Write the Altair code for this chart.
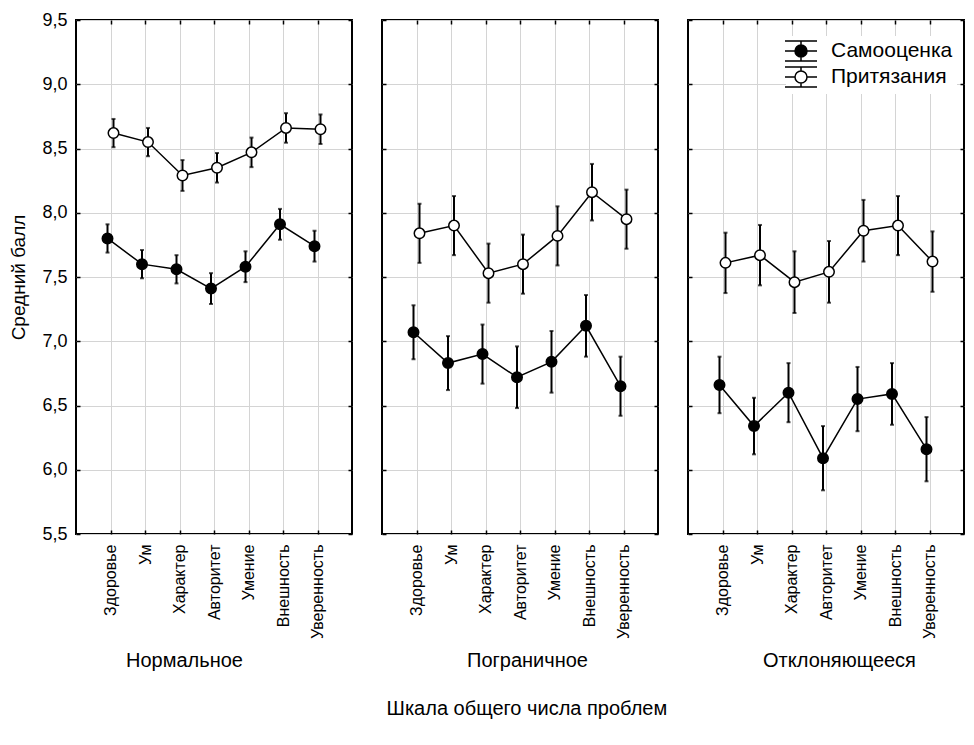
import altair as alt
import pandas as pd

categories = ["Здоровье", "Ум", "Характер", "Авторитет", "Умение", "Внешность", "Уверенность"]
groups = ["Нормальное", "Пограничное", "Отклоняющееся"]
series = ["Самооценка", "Притязания"]
y_ticks = [5.5, 6.0, 6.5, 7.0, 7.5, 8.0, 8.5, 9.0, 9.5]

# Нормальное
self_norm = [7.80, 7.60, 7.56, 7.41, 7.58, 7.91, 7.74]
self_norm_err = [0.11, 0.11, 0.11, 0.12, 0.12, 0.12, 0.12]
asp_norm = [8.62, 8.55, 8.29, 8.35, 8.47, 8.66, 8.65]
asp_norm_err = [0.11, 0.11, 0.12, 0.115, 0.115, 0.115, 0.115]
# Пограничное
self_border = [7.07, 6.83, 6.90, 6.72, 6.84, 7.12, 6.65]
self_border_err = [0.21, 0.21, 0.23, 0.24, 0.24, 0.24, 0.23]
asp_border = [7.84, 7.90, 7.53, 7.60, 7.82, 8.16, 7.95]
asp_border_err = [0.23, 0.23, 0.23, 0.23, 0.23, 0.22, 0.23]
# Отклоняющееся
self_dev = [6.66, 6.34, 6.60, 6.09, 6.55, 6.59, 6.16]
self_dev_err = [0.22, 0.22, 0.23, 0.25, 0.25, 0.24, 0.25]
asp_dev = [7.61, 7.67, 7.46, 7.54, 7.86, 7.90, 7.62]
asp_dev_err = [0.235, 0.235, 0.24, 0.24, 0.24, 0.23, 0.235]

values = {
    ("Нормальное", "Самооценка"): (self_norm, self_norm_err),
    ("Нормальное", "Притязания"): (asp_norm, asp_norm_err),
    ("Пограничное", "Самооценка"): (self_border, self_border_err),
    ("Пограничное", "Притязания"): (asp_border, asp_border_err),
    ("Отклоняющееся", "Самооценка"): (self_dev, self_dev_err),
    ("Отклоняющееся", "Притязания"): (asp_dev, asp_dev_err),
}

rows = []
for (g, s), (vals, errs) in values.items():
    for c, v, e in zip(categories, vals, errs):
        rows.append({"group": g, "series": s, "cat": c, "value": v,
                     "lo": round(v - e, 3), "hi": round(v + e, 3)})
df = pd.DataFrame(rows)

FONT = "Liberation Sans"
W, H = 276, 514
TITLE_X = [108, 145, 151]

x_scale = alt.Scale(type="point", domain=categories, padding=1)
y_scale = alt.Scale(domain=[5.5, 9.5], zero=False, nice=False)
off_scale = alt.Scale(type="point", domain=series, range=[-3, 3], padding=0)
fill_scale = alt.Scale(domain=series, range=["black", "white"])

LABEL_EXPR = "replace(format(datum.value, '.1f'), '.', ',')"

legend_path = ("M-1.6,-1H1.6M-1.6,1H1.6M-1.6,0H-0.6M0.6,0H1.6"
               "M0,-1V-0.6M0,0.6V1"
               "M0.6,0A0.6,0.6,0,1,1,-0.6,0A0.6,0.6,0,1,1,0.6,0Z")


def tick_axis(orient):
    kw = dict(orient=orient, offset=-4, tickSize=4, ticks=True, labels=False,
              domain=False, grid=False, title=None, tickColor="black", tickWidth=1.5)
    if orient in ("left", "right"):
        kw["values"] = y_ticks
    return alt.Axis(**kw)


def panel(i):
    g = groups[i]
    base = alt.Chart(df[df.group == g])
    xo = alt.XOffset("series:N", scale=off_scale)

    main_x = alt.Axis(title=g, orient="bottom", labelAngle=270, labelAlign="right",
                      labelBaseline="middle", labelFontSize=16, labelPadding=10,
                      ticks=False, tickSize=0, domain=False, grid=True,
                      titleFontSize=20, titleFontWeight="normal",
                      titleX=TITLE_X[i], titleY=116,
                      titleAlign="center", titleBaseline="top")
    if i == 0:
        main_y = alt.Axis(title="Средний балл", values=y_ticks, labelExpr=LABEL_EXPR,
                          labelFontSize=18, labelPadding=9, ticks=False, tickSize=0,
                          domain=False, grid=True, titleFontSize=19, titleFontWeight="normal",
                          titleAngle=270, titleX=-58, titleY=H / 2, titleAlign="center",
                          titleBaseline="middle")
    else:
        main_y = alt.Axis(title=None, values=y_ticks, labels=False, ticks=False,
                          domain=False, grid=True)

    lines = base.mark_line(color="black", strokeWidth=1.5).encode(
        x=alt.X("cat:N", scale=x_scale, axis=main_x, sort=categories),
        y=alt.Y("value:Q", scale=y_scale, axis=main_y),
        xOffset=xo,
        detail="series:N",
    )
    rules = base.mark_rule(color="black", strokeWidth=2).encode(
        x=alt.X("cat:N", scale=x_scale, axis=tick_axis("bottom"), sort=categories),
        y=alt.Y("lo:Q", scale=y_scale, axis=tick_axis("left")),
        y2="hi:Q",
        xOffset=xo,
    )
    caps_lo = base.mark_tick(color="black", size=4, thickness=2).encode(
        x=alt.X("cat:N", scale=x_scale, axis=tick_axis("top"), sort=categories),
        y=alt.Y("lo:Q", scale=y_scale, axis=tick_axis("right")),
        xOffset=xo,
    )
    caps_hi = base.mark_tick(color="black", size=4, thickness=2).encode(
        x=alt.X("cat:N", scale=x_scale, axis=None, sort=categories),
        y=alt.Y("hi:Q", scale=y_scale, axis=None),
        xOffset=xo,
    )
    if i == 2:
        legend = alt.Legend(title=None, orient="none", legendX=98, legendY=16,
                            symbolType=legend_path, symbolSize=400,
                            symbolStrokeColor="black", symbolStrokeWidth=1.5,
                            labelFontSize=21, labelOffset=19, rowPadding=0,
                            padding=4, fillColor="white")
    else:
        legend = None
    points = base.mark_point(shape="circle", filled=True, size=110, stroke="black",
                             strokeWidth=1.5, opacity=1).encode(
        x=alt.X("cat:N", scale=x_scale, axis=None, sort=categories),
        y=alt.Y("value:Q", scale=y_scale, axis=None),
        xOffset=xo,
        fill=alt.Fill("series:N", scale=fill_scale, legend=legend),
    )
    return alt.layer(lines, rules, caps_lo, caps_hi, points).resolve_axis(
        x="independent", y="independent"
    ).properties(width=W, height=H)


chart = alt.hconcat(panel(0), panel(1), panel(2), spacing=30, bounds="flush").resolve_scale(
    fill="independent"
).resolve_legend(fill="independent").properties(
    padding={"left": 0, "top": 2, "right": 0, "bottom": 0},
    title=alt.TitleParams("Шкала общего числа проблем", orient="bottom", anchor="middle",
                          fontSize=20, fontWeight="normal", font=FONT,
                          color="black", offset=28, dx=40),
).configure_view(
    stroke="black", strokeWidth=2
).configure_axis(
    gridColor="#d4d4d4", gridWidth=1, labelFont=FONT, titleFont=FONT,
    labelColor="black", titleColor="black"
).configure_legend(
    labelFont=FONT, labelColor="black"
)

chart.save("out.html", embed_options={"renderer": "svg", "actions": False})
